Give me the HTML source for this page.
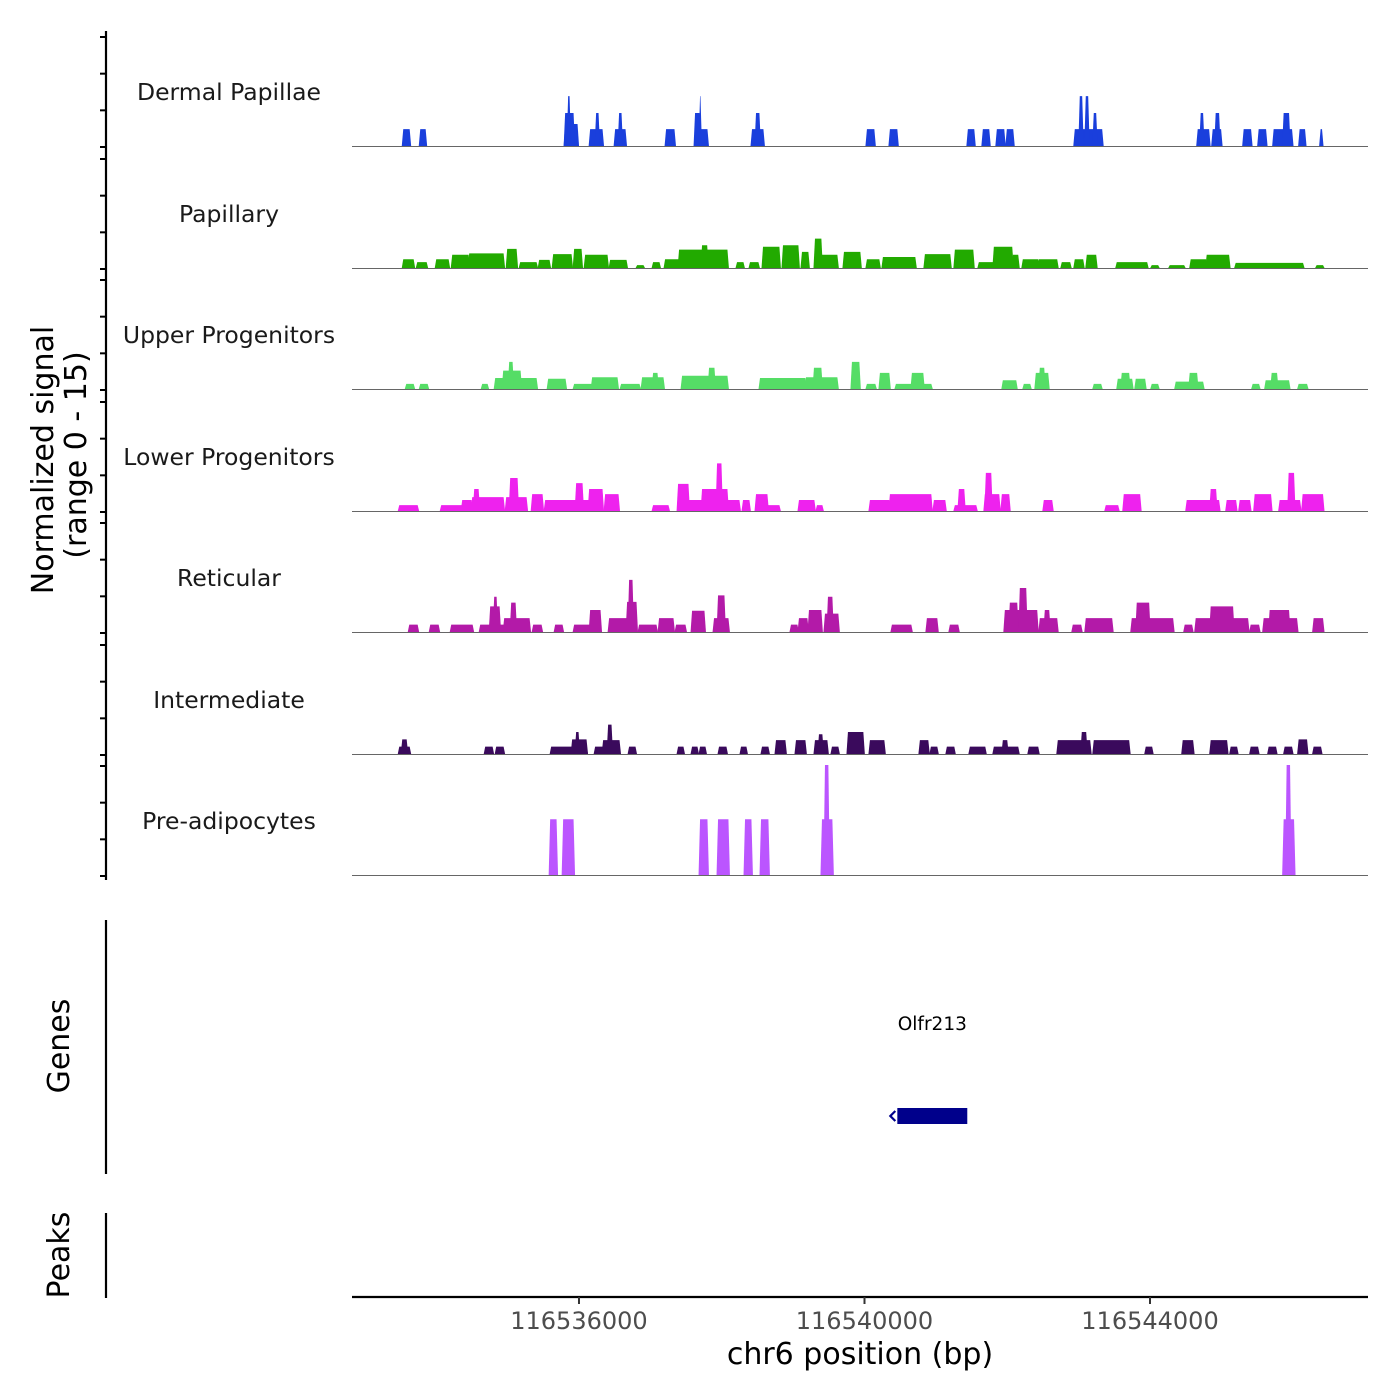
<!DOCTYPE html>
<html><head><meta charset="utf-8"><title>Coverage plot</title>
<style>
html,body{margin:0;padding:0;background:#fff;}
svg{display:block;font-family:"DejaVu Sans","Liberation Sans",sans-serif;}
</style></head>
<body>
<svg id="chart" width="1400" height="1400" viewBox="0 0 1400 1400" xmlns="http://www.w3.org/2000/svg">
<rect width="1400" height="1400" fill="#fff"/>
<g id="tracks"></g>
<g id="yaxis"></g>
<text transform="translate(53,460) rotate(-90)" text-anchor="middle" font-size="30" fill="#000">Normalized signal</text>
<text transform="translate(86,455) rotate(-90)" text-anchor="middle" font-size="30" fill="#000">(range 0 - 15)</text>
<line x1="106" y1="920" x2="106" y2="1174" stroke="#000" stroke-width="2.2"/>
<text transform="translate(69,1046) rotate(-90)" text-anchor="middle" font-size="30" fill="#000">Genes</text>
<line x1="106" y1="1213" x2="106" y2="1298" stroke="#000" stroke-width="2.2"/>
<text transform="translate(69,1255) rotate(-90)" text-anchor="middle" font-size="30" fill="#000">Peaks</text>
<g id="genes"></g>
<g id="xaxis"></g>
<text x="860" y="1364" text-anchor="middle" font-size="30" fill="#000">chr6 position (bp)</text>
</svg>
<script>
const regionStart = 116532820;
const regionEnd = 116547054;
const trackNames = ["Dermal Papillae","Papillary","Upper Progenitors","Lower Progenitors","Reticular","Intermediate","Pre-adipocytes"];
const trackColors = ["#1a3fdc","#22aa00","#55dd66","#ee22ee","#b31aa8","#3a0a5c","#bb55ff"];
const yTicks = [0,5,10,15];
const xTicks = [116536000,116540000,116544000];
// segments: [startOffsetBp, endOffsetBp, signal]
const dermal = [[714,812,2.3],[952,1036,2.3],[2982,3164,3],[2982,3108,4.5],[3024,3052,6.8],[3332,3514,2.3],[3416,3458,4.5],[3682,3836,2.3],[3738,3780,4.5],[4396,4522,2.3],[4802,4872,4.5],[4872,4886,6.8],[4886,4984,2.3],[5600,5768,2.3],[5656,5712,4.5],[7210,7322,2.3],[7532,7644,2.3],[8624,8722,2.3],[8834,8932,2.3],[9030,9142,2.3],[9170,9268,2.3],[10122,10514,2.3],[10192,10234,6.8],[10276,10318,6.8],[10388,10430,4.5],[11844,12012,2.3],[11886,11928,4.5],[12054,12180,2.3],[12096,12152,4.5],[12488,12600,2.3],[12698,12810,2.3],[12908,13174,2.3],[13048,13132,4.5],[13272,13356,2.3],[13566,13594,2.3]];
const papillary = [[714,868,1.2],[910,1050,0.8],[1176,1358,1.2],[1400,1638,1.8],[1638,2128,2.0],[2170,2310,2.6],[2352,2590,0.8],[2618,2772,1.1],[2814,3080,1.9],[3108,3220,2.6],[3262,3584,1.8],[3612,3850,1.1],[3990,4088,0.4],[4214,4312,0.8],[4382,4578,1.2],[4578,5264,2.5],[4900,4980,3.1],[5390,5488,0.8],[5572,5698,0.8],[5754,5992,2.9],[6034,6258,3.1],[6300,6398,2.2],[6482,6580,4.0],[6580,6804,1.8],[6888,7126,2.2],[7210,7392,1.2],[7434,7896,1.5],[8022,8386,1.9],[8442,8708,2.5],[8778,8988,0.8],[8988,9254,2.9],[9254,9338,1.8],[9394,9618,1.2],[9618,9884,1.2],[9940,10066,0.8],[10122,10248,1.2],[10290,10430,1.8],[10710,11144,0.8],[11200,11298,0.4],[11452,11662,0.4],[11746,11970,1.2],[11970,12292,1.8],[12376,13328,0.7],[13510,13608,0.4]];
const upperProg = [[756,868,0.7],[952,1064,0.7],[1820,1904,0.7],[2002,2590,1.5],[2114,2366,2.5],[2198,2254,3.7],[2744,2996,1.4],[3108,3360,0.7],[3360,3724,1.6],[3766,4032,0.7],[4060,4368,1.6],[4214,4284,2.2],[4620,5264,1.8],[4998,5082,2.9],[5712,6356,1.5],[6356,6804,1.6],[6468,6580,2.9],[7000,7112,3.7],[7210,7336,0.7],[7392,7532,2.2],[7616,8120,0.7],[7840,8008,2.2],[9114,9310,1.2],[9408,9506,0.7],[9576,9758,2.2],[9632,9702,2.9],[10388,10500,0.7],[10724,10934,1.4],[10780,10892,2.2],[10976,11116,1.4],[11200,11298,0.7],[11536,11928,1.0],[11732,11844,2.2],[12614,12712,0.7],[12796,13132,1.2],[12880,12964,2.2],[13258,13384,0.7]];
const lowerProg = [[658,924,0.8],[1246,1540,0.8],[1540,1680,1.5],[1680,2128,1.9],[1708,1778,3.0],[2156,2450,1.9],[2212,2324,4.5],[2520,2674,2.3],[2702,3318,1.5],[3136,3234,3.8],[3318,3514,3.0],[3542,3738,2.3],[4214,4438,0.8],[4564,4718,3.7],[4718,5432,1.5],[4900,5264,3.0],[5110,5180,6.5],[5474,5572,1.5],[5656,5824,2.3],[5824,5992,0.8],[6258,6482,1.5],[6510,6594,0.8],[7252,7532,1.5],[7532,8120,2.3],[8148,8316,1.5],[8442,8750,0.8],[8498,8582,3.0],[8862,9072,2.3],[8876,8960,5.2],[9100,9212,2.3],[9688,9814,1.5],[10556,10738,0.8],[10808,11046,2.3],[11690,12152,1.5],[12026,12110,3.0],[12250,12390,1.5],[12432,12586,1.5],[12642,12880,2.3],[12992,13286,1.5],[13118,13202,5.2],[13314,13608,2.3]];
const reticular = [[798,924,1.0],[1092,1218,1.0],[1386,1694,1.0],[1792,2128,1.0],[1932,2072,3.5],[1988,2030,4.8],[2128,2492,1.9],[2226,2296,4.0],[2534,2660,1.0],[2842,2954,1.0],[3108,3332,1.0],[3332,3486,3.0],[3598,3850,1.9],[3850,3990,4.1],[3878,3934,7.1],[4018,4270,1.0],[4298,4508,1.9],[4536,4676,1.0],[4760,4942,2.9],[5068,5278,1.9],[5124,5222,5.0],[6146,6244,1.0],[6258,6384,1.9],[6398,6580,3.0],[6622,6818,2.5],[6664,6734,4.8],[7560,7840,1.0],[8050,8204,1.9],[8372,8498,1.0],[9142,9604,3.0],[9212,9324,4.0],[9352,9450,6.0],[9632,9884,1.9],[9702,9772,3.0],[10094,10220,1.0],[10276,10654,1.9],[10920,11508,1.9],[10990,11172,4.0],[11662,11774,1.0],[11816,12558,1.9],[12026,12348,3.5],[12586,12712,1.0],[12768,13244,1.9],[12852,13132,3.0],[13468,13608,1.9]];
const intermediate = [[658,812,1.0],[700,770,2.0],[1862,1974,1.0],[2016,2128,1.0],[2786,3290,1.0],[3080,3290,2.0],[3136,3178,3.0],[3402,3514,1.0],[3514,3752,1.9],[3584,3640,4.0],[3878,3976,1.0],[4564,4648,1.0],[4760,4844,1.0],[4872,4956,1.0],[5138,5250,1.0],[5446,5530,1.0],[5740,5838,1.0],[5936,6076,1.9],[6216,6356,1.9],[6482,6664,1.9],[6538,6594,2.7],[6720,6818,1.0],[6944,7168,3.0],[7252,7462,1.9],[7952,8078,1.9],[8106,8204,1.0],[8330,8442,1.0],[8652,8876,1.0],[8988,9338,1.0],[9114,9184,1.9],[9478,9618,1.0],[9884,10346,1.9],[10220,10290,3.0],[10388,10892,1.9],[11116,11214,1.0],[11634,11788,1.9],[12026,12264,1.9],[12306,12404,1.0],[12586,12698,1.0],[12838,12950,1.0],[13062,13174,1.0],[13258,13384,2.0],[13468,13580,1.0]];
const preAdipo = [[2772,2870,7.6],[2954,3108,7.6],[4872,4984,7.6],[5124,5278,7.6],[5502,5600,7.6],[5726,5838,7.6],[6580,6734,7.6],[6622,6678,15],[13048,13202,7.6],[13090,13146,15]];
const trackData = [dermal,papillary,upperProg,lowerProg,reticular,intermediate,preAdipo];
const geneName = "Olfr213";
const geneStart = 116540460;
const geneEnd = 116541440;

const NS = "http://www.w3.org/2000/svg";
const plotL = 352, plotR = 1368;
const baselines = [146,268,389,511,632,754,875];
const unitPx = 110/15;
function xScale(bp){ return plotL + (bp - regionStart) * (plotR - plotL) / (regionEnd - regionStart); }
function yScale(v, b){ return b - v * unitPx; }
function mk(tag, attrs, parent){ const e = document.createElementNS(NS, tag); for (const k in attrs) e.setAttribute(k, attrs[k]); parent.appendChild(e); return e; }

const tracksG = document.getElementById('tracks');
trackData.forEach((segs, t) => {
  const B = baselines[t];
  const g = mk('g', {}, tracksG);
  
  
  const lab = mk('text', {x:229, y:B-46, 'text-anchor':'middle', 'font-size':'23.5', fill:'#1a1a1a'}, g);
  lab.textContent = trackNames[t];
  
  
  segs.forEach(s => {
    const x1 = xScale(regionStart + s[0]), x2 = xScale(regionStart + s[1]);
    const y = yScale(s[2], B);
    const d = 1.2;
    const p = mk('polygon', {points: `${x1-d},${B} ${x1+0.3},${y} ${x2-0.3},${y} ${x2+d},${B}`, fill: trackColors[t]}, g);
    
    
  });
  const bl = mk('line', {x1:plotL, x2:plotR, y1:B+0.5, y2:B+0.5, stroke:'#666', 'stroke-width':1}, g);
  
  
});

const yG = document.getElementById('yaxis');
const yl = mk('line', {x1:106, x2:106, y1:31, y2:880, stroke:'#000', 'stroke-width':2.2}, yG);


baselines.forEach(B => {
  yTicks.forEach(v => {
    const y = yScale(v, B) + 1;
    const tk = mk('line', {x1:100, x2:106, y1:y, y2:y, stroke:'#000', 'stroke-width':2}, yG);
    
    
  });
});

const gG = document.getElementById('genes');
const gx1 = xScale(geneStart), gx2 = xScale(geneEnd);
const gr = mk('rect', {x:gx1, y:1108, width:gx2-gx1, height:16, fill:'#00008b'}, gG);


const ar = mk('path', {d:`M${gx1-2},1111 L${gx1-7},1116 L${gx1-2},1121`, stroke:'#00008b', 'stroke-width':2.2, fill:'none'}, gG);


const gt = mk('text', {x:(gx1+gx2)/2, y:1030, 'text-anchor':'middle', 'font-size':'18.5', fill:'#000'}, gG);
gt.textContent = geneName;



const xG = document.getElementById('xaxis');
const xl = mk('line', {x1:plotL, x2:plotR, y1:1297, y2:1297, stroke:'#000', 'stroke-width':2.2}, xG);


xTicks.forEach(v => {
  const x = xScale(v);
  const tk = mk('line', {x1:x, x2:x, y1:1297, y2:1304, stroke:'#333', 'stroke-width':2}, xG);
  
  
  const tl = mk('text', {x:x, y:1329, 'text-anchor':'middle', 'font-size':'24', fill:'#4d4d4d'}, xG);
  tl.textContent = String(v);
  
  
});
</script>
</body></html>
